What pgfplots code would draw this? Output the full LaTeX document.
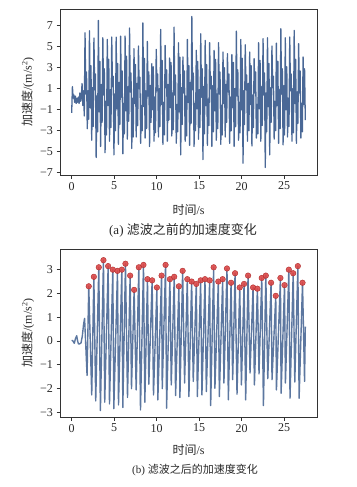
\documentclass[border=0pt]{standalone}
\usepackage{fontspec}
\setmainfont{Liberation Serif}
\newfontfamily\cjk{Noto Sans CJK SC}
\usepackage{pgfplots}
\usepackage{pgfplotstable}
\pgfplotsset{compat=1.18}
\definecolor{lineblue}{RGB}{74,104,150}
\definecolor{mkred}{RGB}{218,70,70}
\definecolor{mkedge}{RGB}{175,45,45}
\definecolor{txt}{RGB}{40,40,40}

% (a) raw acceleration, sampled every 0.0873 s
\pgfplotstableread[row sep=\\]{
y\\
-1.3\\ 1.2\\ 0.1\\ 0.4\\ -0.3\\ 0.3\\ -0.4\\ 0.1\\ -0.3\\ 0.2\\ -0.4\\ 0.6\\ -0.2\\ 0.3\\ 1.5\\ -0.6\\ 0.8\\ -1.6\\
6.34\\ 0.5\\ 2.6\\ -2.8\\ 0.8\\ -1.9\\
6.53\\ -0.8\\ 3.2\\ -3.9\\ 1.1\\ -2.6\\
5.83\\ 0.9\\ 2.4\\ -5.55\\ 0.3\\ -3.1\\
7.51\\ -1.2\\ 3.6\\ -4.5\\ 1.4\\ -2.2\\
5.86\\ 0.4\\ 2.9\\ -5.1\\ -0.2\\ -3.4\\
5.70\\ -0.6\\ 3.8\\ -4.0\\ 0.9\\ -2.7\\
5.92\\ 1.2\\ 2.2\\ -5.3\\ 0.5\\ -3.0\\
5.92\\ -0.9\\ 3.4\\ -4.3\\ 1.6\\ -2.4\\
6.02\\ 0.2\\ 2.7\\ -5.2\\ -0.4\\ -3.3\\
6.02\\ -1.1\\ 4.1\\ -3.8\\ 1.2\\ -2.1\\
6.78\\ 0.7\\ 2.5\\ -4.7\\ 0.1\\ -3.6\\
4.82\\ -0.4\\ 3.3\\ -3.6\\ 1.5\\ -2.5\\
5.07\\ 1.0\\ 2.1\\ -4.2\\ -0.6\\ -3.0\\
7.28\\ -0.7\\ 3.9\\ -3.7\\ 0.8\\ -2.8\\
5.51\\ 0.3\\ 2.6\\ -4.5\\ 1.3\\ -2.2\\
3.39\\ -1.0\\ 3.1\\ -4.0\\ 0.2\\ -3.2\\
4.75\\ 0.8\\ 2.4\\ -3.6\\ 1.0\\ -2.6\\
6.65\\ -0.5\\ 3.7\\ -4.3\\ -0.3\\ -3.4\\
5.13\\ 1.1\\ 2.8\\ -4.0\\ 1.4\\ -2.0\\
3.93\\ -0.8\\ 3.5\\ -3.5\\ 0.6\\ -2.9\\
6.87\\ 0.4\\ 2.3\\ -4.2\\ -0.5\\ -3.1\\
5.39\\ -1.2\\ 4.0\\ -5.3\\ 1.1\\ -2.4\\
4.03\\ 0.6\\ 2.7\\ -4.0\\ 0.3\\ -3.5\\
5.70\\ -0.3\\ 3.2\\ -4.4\\ 1.6\\ -2.3\\
7.89\\ 0.9\\ 2.5\\ -4.5\\ -0.4\\ -3.0\\
4.66\\ -0.9\\ 3.6\\ -3.8\\ 0.9\\ -2.7\\
6.24\\ 0.2\\ 2.9\\ -5.75\\ 1.2\\ -3.3\\
5.61\\ -0.6\\ 3.3\\ -4.4\\ 0.0\\ -2.5\\
5.39\\ 1.0\\ 2.2\\ -4.5\\ 1.3\\ -3.1\\
4.66\\ -1.1\\ 3.8\\ -3.9\\ 0.5\\ -2.8\\
5.39\\ 0.5\\ 2.6\\ -4.3\\ -0.6\\ -3.4\\
4.50\\ -0.4\\ 3.0\\ -3.6\\ 1.4\\ -2.2\\
4.34\\ 0.7\\ 2.4\\ -4.2\\ 0.2\\ -3.0\\
4.25\\ -0.8\\ 3.5\\ -4.5\\ 1.0\\ -2.6\\
6.49\\ 0.3\\ 2.8\\ -3.9\\ -0.3\\ -3.2\\
5.70\\ -1.0\\ 3.9\\ -6.1\\ 0.8\\ -2.4\\
5.20\\ 0.9\\ 2.3\\ -4.0\\ 1.5\\ -3.0\\
4.50\\ -0.5\\ 3.2\\ -4.45\\ 0.4\\ -2.7\\
3.87\\ 0.6\\ 2.6\\ -3.7\\ -0.5\\ -3.3\\
5.39\\ -0.9\\ 3.7\\ -4.0\\ 1.2\\ -2.5\\
5.77\\ 0.4\\ 2.5\\ -6.5\\ 0.6\\ -3.1\\
5.86\\ -0.7\\ 3.4\\ -5.3\\ 1.1\\ -2.2\\
5.07\\ 1.1\\ 2.2\\ -3.8\\ -0.2\\ -3.0\\
5.35\\ -0.6\\ 3.6\\ -4.2\\ 0.9\\ -2.8\\
6.72\\ 0.5\\ 2.9\\ -4.35\\ 1.3\\ -3.4\\
5.86\\ -1.0\\ 3.1\\ -3.6\\ 0.1\\ -2.6\\
5.92\\ 0.8\\ 2.4\\ -4.0\\ 1.0\\ -3.2\\
6.56\\ -0.4\\ 3.8\\ -4.2\\ 0.7\\ -2.3\\
5.29\\ 0.6\\ 2.7\\ -3.7\\ -0.4\\ -3.1\\
4.03\\ -0.5\\ 2.9\\ -2.0\\
}\rawA

% (b) filtered acceleration
\pgfplotstableread[row sep=\\]{
x y\\
0 0.03\\ 0.15 0.0\\ 0.31 -0.1\\ 0.45 0.1\\ 0.59 0.22\\ 0.7 0.0\\ 0.79 -0.12\\ 0.95 -0.12\\ 1.1 -0.08\\ 1.25 0.2\\ 1.4 0.7\\ 1.52 0.95\\ 1.81 -1.45\\
2.01 2.3\\ 2.36 -2.27\\ 2.61 2.7\\ 2.83 -2.52\\ 3.19 3.1\\ 3.38 -2.93\\ 3.74 3.4\\ 3.89 -2.58\\
4.29 3.15\\ 4.45 -2.65\\ 4.84 3.0\\ 4.96 -2.85\\ 5.39 2.95\\ 5.51 -2.69\\ 5.90 3.0\\ 6.02 -2.8\\
6.33 3.25\\ 6.57 -2.38\\ 6.88 2.75\\ 7.04 -2.01\\ 7.35 2.15\\ 7.59 -2.06\\ 7.90 3.1\\ 8.10 -2.9\\
8.45 3.2\\ 8.61 -2.58\\ 8.92 2.6\\ 9.08 -1.82\\ 9.47 2.55\\ 9.63 -2.27\\ 10.03 2.25\\ 10.14 -2.48\\
10.58 2.75\\ 10.66 -2.01\\ 11.05 3.2\\ 11.17 -2.83\\ 11.56 2.6\\ 11.72 -1.85\\ 12.07 2.7\\ 12.23 -2.3\\
12.62 2.3\\ 12.74 -2.38\\ 13.06 2.95\\ 13.29 -1.77\\ 13.61 2.6\\ 13.80 -2.34\\ 14.12 2.5\\ 14.31 -1.7\\
14.67 2.4\\ 14.79 -2.34\\ 15.18 2.55\\ 15.33 -2.27\\ 15.69 2.6\\ 15.85 -2.13\\ 16.24 2.55\\ 16.36 -2.72\\
16.71 3.1\\ 16.86 -1.99\\ 17.26 2.5\\ 17.38 -2.34\\ 17.77 2.6\\ 17.92 -1.77\\ 18.28 3.05\\ 18.44 -2.48\\
18.76 2.45\\ 18.95 -1.63\\ 19.23 2.85\\ 19.46 -2.24\\ 19.78 2.25\\ 19.98 -1.85\\ 20.29 2.4\\ 20.48 -2.48\\
20.76 2.75\\ 20.99 -1.35\\ 21.35 2.25\\ 21.51 -1.85\\ 21.86 2.2\\ 22.05 -1.39\\ 22.37 2.65\\ 22.57 -2.72\\
22.85 2.75\\ 23.08 -1.59\\ 23.47 2.45\\ 23.58 -1.63\\ 24.02 1.9\\ 24.10 -2.06\\ 24.57 2.65\\ 24.65 -2.2\\
25.05 2.35\\ 25.16 -1.77\\ 25.56 3.0\\ 25.70 -2.41\\ 26.07 2.85\\ 26.26 -1.73\\ 26.62 3.15\\ 26.77 -2.41\\
27.17 2.45\\ 27.41 -1.70\\ 27.5 0.6\\
}\filtB

% (b) detected peaks
\pgfplotstableread[row sep=\\]{
x y\\
2.01 2.3\\ 2.61 2.7\\ 3.19 3.1\\ 3.74 3.4\\ 4.29 3.15\\ 4.84 3.0\\ 5.39 2.95\\ 5.90 3.0\\ 6.33 3.25\\ 6.88 2.75\\
7.35 2.15\\ 7.90 3.1\\ 8.45 3.2\\ 8.92 2.6\\ 9.47 2.55\\ 10.03 2.25\\ 10.58 2.75\\ 11.05 3.2\\ 11.56 2.6\\ 12.07 2.7\\
12.62 2.3\\ 13.06 2.95\\ 13.61 2.6\\ 14.12 2.5\\ 14.67 2.4\\ 15.18 2.55\\ 15.69 2.6\\ 16.24 2.55\\ 16.71 3.1\\ 17.26 2.5\\
17.77 2.6\\ 18.28 3.05\\ 18.76 2.45\\ 19.23 2.85\\ 19.78 2.25\\ 20.29 2.4\\ 20.76 2.75\\ 21.35 2.25\\ 21.86 2.2\\ 22.37 2.65\\
22.85 2.75\\ 23.47 2.45\\ 24.02 1.9\\ 24.57 2.65\\ 25.05 2.35\\ 25.56 3.0\\ 26.07 2.85\\ 26.62 3.15\\ 27.17 2.45\\
}\peaksB

\pgfplotsset{
  panel/.style={
    scale only axis, width=257pt,
    xmin=-1.375, xmax=28.875,
    xtick={0,5,10,15,20,25},
    xticklabels={0,5,10,15,20,25},
    /pgf/number format/assume math mode=true,
    tick align=outside, tick pos=left,
    major tick length=3.5pt,
    every tick/.style={black!80, line width=0.6pt},
    axis line style={black!80, line width=0.7pt},
    tick label style={font=\fontsize{12}{12}\selectfont, text=txt},
    label style={font=\fontsize{12}{13}\selectfont, text=txt},
    ylabel={{\cjk 加速度}/(m/s\textsuperscript{2})},
    xlabel={{\cjk 时间}/s},
    ylabel style={at={(axis description cs:-0.125,0.5)}, anchor=center, rotate=0},
  }
}

\begin{document}
\begin{tikzpicture}
\useasboundingbox (0,0) rectangle (356pt,487pt);

\begin{axis}[panel, height=166pt,
  at={(60pt,478pt)}, anchor=north west,
  ymin=-7.22, ymax=8.6,
  ytick={-7,-5,-3,-1,1,3,5,7},
  yticklabels={−7,−5,−3,−1,1,3,5,7},
  xlabel style={at={(axis description cs:0.5,-0.211)}, anchor=center},
]
\addplot[lineblue, line width=1.3pt, line join=round] table[x expr=\coordindex*0.0873, y=y] {\rawA};
\end{axis}
\node[font=\fontsize{13}{14}\selectfont, text=txt] at (183pt,257pt) {(a) {\cjk 滤波之前的加速度变化}};

\begin{axis}[panel, height=168pt,
  at={(60pt,238pt)}, anchor=north west,
  ymin=-3.2, ymax=3.87,
  ytick={-3,-2,-1,0,1,2,3},
  yticklabels={−3,−2,−1,0,1,2,3},
  xlabel style={at={(axis description cs:0.5,-0.196)}, anchor=center},
  clip=false,
]
\addplot[color=lineblue!90!white, line width=1.4pt, line join=round] table[x=x, y=y] {\filtB};
\addplot[only marks, mark=*, mark size=2.8pt, mark options={fill=mkred, draw=mkedge, line width=0.4pt, fill opacity=0.9}] table[x=x, y=y] {\peaksB};
\end{axis}
\node[font=\fontsize{11}{12}\selectfont, text=txt] at (195pt,17pt) {(b) {\cjk 滤波之后的加速度变化}};
\end{tikzpicture}
\end{document}
